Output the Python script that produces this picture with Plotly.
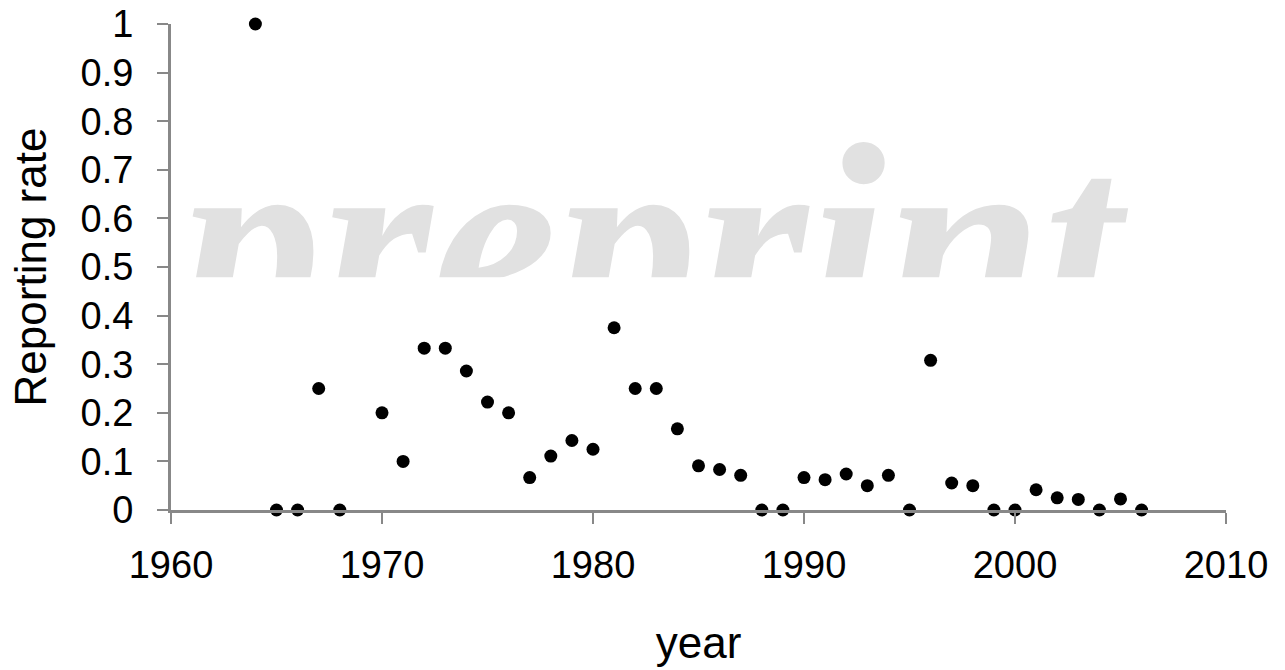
import plotly.graph_objects as go

years = [1964, 1965, 1966, 1967, 1968, 1970, 1971, 1972, 1973, 1974,
         1975, 1976, 1977, 1978, 1979, 1980, 1981, 1982, 1983, 1984,
         1985, 1986, 1987, 1988, 1989, 1990, 1991, 1992, 1993, 1994,
         1995, 1996, 1997, 1998, 1999, 2000, 2001, 2002, 2003, 2004,
         2005, 2006]
rates = [1.0, 0.0, 0.0, 0.25, 0.0, 0.2, 0.1, 0.333, 0.333, 0.286,
         0.222, 0.2, 0.0667, 0.111, 0.143, 0.125, 0.375, 0.25, 0.25, 0.167,
         0.0909, 0.0833, 0.0714, 0.0, 0.0, 0.0667, 0.0625, 0.0741, 0.05, 0.0714,
         0.0, 0.308, 0.0556, 0.05, 0.0, 0.0, 0.0417, 0.025, 0.0217, 0.0,
         0.0227, 0.0]

x_ticks = [1960, 1970, 1980, 1990, 2000, 2010]
y_ticks = [0, 0.1, 0.2, 0.3, 0.4, 0.5, 0.6, 0.7, 0.8, 0.9, 1]
watermark_text = "preprint"

AX = "#888888"
FONT = "Liberation Sans, Arial, sans-serif"

fig = go.Figure()

# watermark (its lower part is cut off, as in the reference)
fig.add_trace(go.Scatter(
    x=[0.455], y=[0.04], mode="text", text=[watermark_text],
    textposition="middle center",
    textfont=dict(family="Liberation Serif, serif", size=282, color="#e1e1e1",
                  weight="bold", style="italic"),
    xaxis="x2", yaxis="y2", hoverinfo="skip", showlegend=False, cliponaxis=True,
))

fig.add_trace(go.Scatter(
    x=years, y=rates, mode="markers",
    marker=dict(color="black", size=13, line=dict(width=0)),
    cliponaxis=False, showlegend=False,
))

fig.update_layout(
    template="none",
    width=1285, height=670,
    margin=dict(l=171, r=59, t=24, b=160),
    paper_bgcolor="white", plot_bgcolor="rgba(0,0,0,0)",
    font=dict(family=FONT, color="black"),
    xaxis=dict(
        range=[1960, 2010], tickvals=x_ticks, ticktext=[str(v) for v in x_ticks],
        showgrid=False, zeroline=False, showline=True, linecolor=AX, linewidth=3,
        ticks="outside", ticklen=11, tickwidth=2, tickcolor=AX,
        tickfont=dict(size=38), ticklabelstandoff=8, automargin=False,
        title=dict(text="year", font=dict(size=44), standoff=43),
    ),
    yaxis=dict(
        range=[0, 1], tickvals=y_ticks,
        showgrid=False, zeroline=False, showline=True, linecolor=AX, linewidth=3,
        ticks="outside", ticklen=11, tickwidth=2, tickcolor=AX,
        tickfont=dict(size=38), ticklabelstandoff=16, automargin=False,
        title=dict(text="Reporting rate", font=dict(size=44), standoff=21),
    ),
    xaxis2=dict(domain=[0, 1], range=[0, 1], anchor="y2", visible=False,
                automargin=False),
    yaxis2=dict(domain=[0.479, 1], range=[0, 1], anchor="x2", visible=False,
                automargin=False),
)

fig.write_html("out.html")
